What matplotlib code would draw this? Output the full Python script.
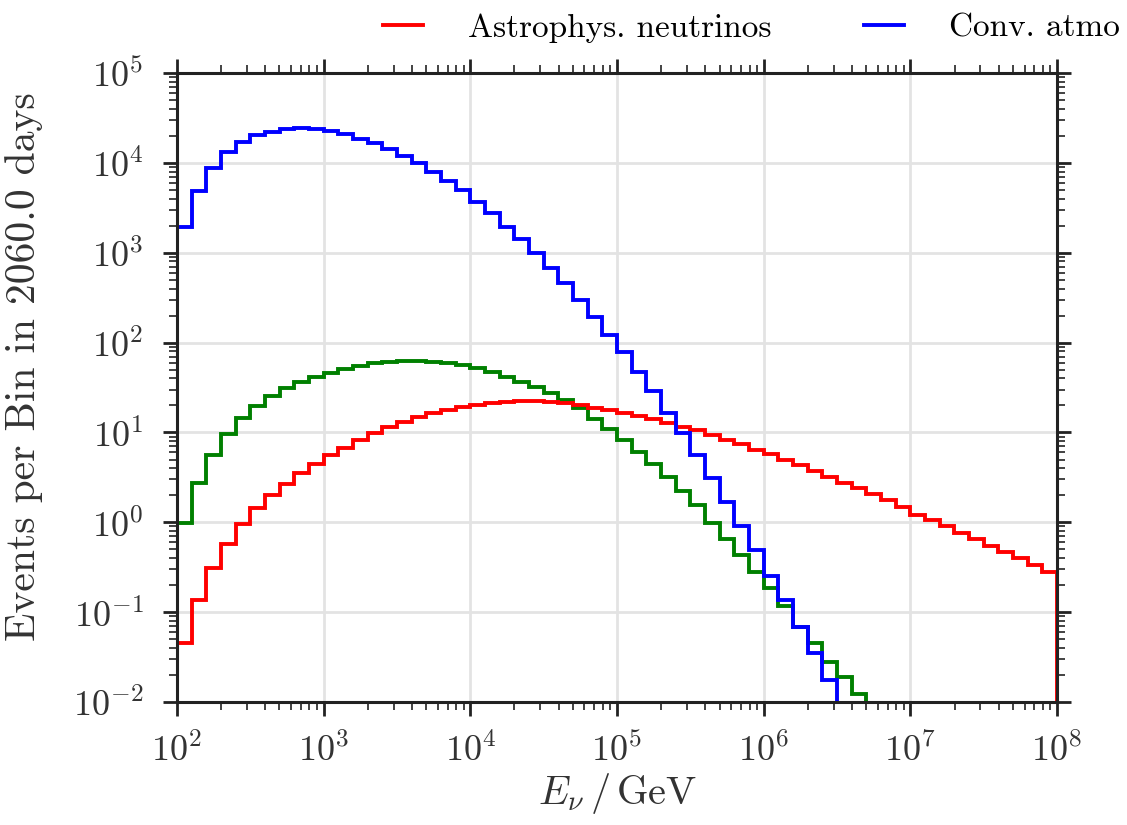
import numpy as np
import matplotlib
matplotlib.use("Agg")
import matplotlib.pyplot as plt

plt.rcParams['font.family'] = ['cmr10', 'DejaVu Serif']
plt.rcParams['mathtext.fontset'] = 'cm'
plt.rcParams['axes.formatter.use_mathtext'] = True
plt.rcParams['axes.unicode_minus'] = True

# 10 log bins per decade, 1e2 .. 1e8 GeV
log_edge_start = 2
log_edge_stop = 8
n_bins = 60

astro = [0.045, 0.136, 0.31, 0.58, 0.96, 1.43, 2.01, 2.67, 3.5, 4.42,
         5.6, 6.8, 8.2, 9.8, 11.4, 13.2, 14.7, 16.6, 18.0, 19.2,
         20.2, 21.1, 22.0, 22.4, 22.4, 22.0, 21.1, 20.2, 18.8, 17.9,
         16.4, 15.3, 14.0, 12.8, 11.6, 10.6, 9.4, 8.3, 7.35, 6.45,
         5.75, 4.95, 4.35, 3.75, 3.2, 2.75, 2.39, 2.05, 1.77, 1.49,
         1.22, 1.06, 0.91, 0.77, 0.66, 0.545, 0.47, 0.40, 0.335, 0.28]

conv_atmo = [1950, 4860, 8840, 13300, 17200, 20400, 22200, 23800, 24200, 23800,
             22600, 20800, 18400, 16500, 14200, 11900, 9880, 7980, 6330, 4950,
             3700, 2750, 1950, 1410, 986, 681, 457, 298, 192, 122,
             78, 47, 28.7, 16.3, 9.8, 5.6, 3.08, 1.69, 0.91, 0.49,
             0.25, 0.136, 0.069, 0.035, 0.0176, 0.0085, 0.004, 0.0018, 0.0008, 0.0003,
             1e-4, 4e-5, 1.5e-5, 6e-6, 2e-6, 8e-7, 3e-7, 1e-7, 4e-8, 1.5e-8]

prompt_atmo = [0.99, 2.71, 5.6, 9.6, 14.4, 19.9, 25.5, 31.0, 36.1, 41.1,
               46.2, 50.8, 55.3, 58.8, 60.8, 62.0, 62.0, 61.0, 59.0, 56.0,
               52.0, 46.7, 41.7, 36.7, 31.8, 27.3, 22.8, 18.6, 14.0, 11.0,
               8.3, 6.1, 4.45, 3.2, 2.25, 1.56, 0.99, 0.66, 0.43, 0.28,
               0.184, 0.117, 0.069, 0.046, 0.028, 0.019, 0.0122, 0.0075, 0.0045, 0.0026,
               0.0015, 8e-4, 4.5e-4, 2.4e-4, 1.3e-4, 7e-5, 3.6e-5, 1.9e-5, 1e-5, 5e-6]

edges = np.logspace(log_edge_start, log_edge_stop, n_bins + 1)

fig = plt.figure(figsize=(11.27, 8.25), dpi=100)
ax = fig.add_axes([0.157, 0.149, 0.781, 0.7625])

ax.grid(True, which='major', color='#e3e3e3', linewidth=2, zorder=0)
ax.set_axisbelow(True)

ax.stairs(prompt_atmo, edges, baseline=1e-9, color='green', linewidth=2.8)
ax.stairs(astro, edges, baseline=1e-9, color='red', linewidth=2.8,
          label='Astrophys. neutrinos')
ax.stairs(conv_atmo, edges, baseline=1e-9, color='blue', linewidth=2.8,
          label='Conv. atmo')

ax.set_xscale('log')
ax.set_yscale('log')
ax.set_xlim(1e2, 1e8)
ax.set_ylim(1e-2, 1e5)

for s in ax.spines.values():
    s.set_linewidth(2.2)
    s.set_color('#222222')

ax.tick_params(which='both', direction='out', top=True, right=True, labelsize=26,
               color='#222222', labelcolor='#333333')
ax.tick_params(which='major', length=10, width=2)
ax.tick_params(which='minor', length=5.5, width=1.2)
ax.tick_params(axis='x', pad=12)
ax.tick_params(axis='y', pad=14)

ax.set_xlabel(r'$E_{\nu}\,/\,\mathrm{GeV}$', fontsize=29, color='#333333',
              labelpad=2)
ax.set_ylabel('Events per Bin in 2060.0 days', fontsize=30, color='#333333')
ax.yaxis.set_label_coords(-0.152, 0.533)

fig.legend(loc='upper right', bbox_to_anchor=(1.02, 1.02), ncol=2, frameon=False,
           fontsize=24, handlelength=1.2, handletextpad=1.35, columnspacing=2.75)

fig.savefig('out.png', dpi=100)
